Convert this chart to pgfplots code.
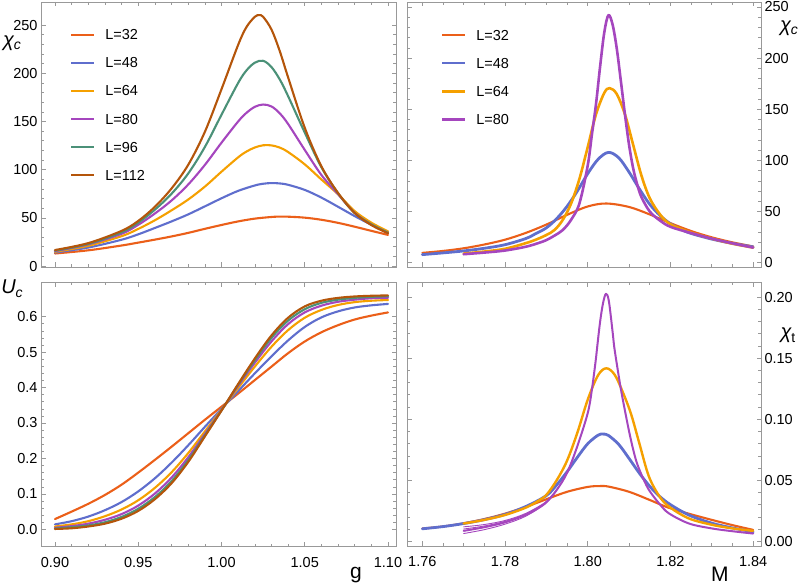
\documentclass[border=0pt]{standalone}
\usepackage{fontspec}
\setmainfont{Liberation Sans}
\usepackage{pgfplots}
\pgfplotsset{compat=1.18}

\definecolor{cA}{HTML}{EB5F19}
\definecolor{cB}{HTML}{5F6ECD}
\definecolor{cC}{HTML}{F5A000}
\definecolor{cD}{HTML}{A546BE}
\definecolor{cE}{HTML}{4B9178}
\definecolor{cF}{HTML}{B4550A}
\definecolor{framegray}{HTML}{999999}

\newcommand\tfont{\fontsize{14.5bp}{16bp}\selectfont}
\newcommand\lfont{\fontsize{20bp}{22bp}\selectfont}
\newcommand\sfont{\fontsize{14bp}{14bp}\selectfont}

\pgfplotsset{
  crv/.style={smooth, tension=0.55, line join=round, line cap=round},
  panel/.style={
    scale only axis, anchor=south west,
    axis line style={draw=framegray, line width=0.8bp},
    tick style={draw=framegray, line width=0.6bp},
    major tick length=4.5bp, minor tick length=2.7bp,
    tick align=inside,
    xtick pos=both, ytick pos=both,
    tick label style={font=\tfont, text=black},
    xticklabel style={yshift=-7bp},
    /pgf/number format/assume math mode=true,
    legend image code/.code={\draw[##1, line width=2.2bp, line cap=butt] (0bp,0bp) -- (23bp,0bp);},
    legend style={draw=none, fill=none, font=\tfont, anchor=north west,
      nodes={inner sep=0pt, text depth=0pt}, row sep=18bp, column sep=10bp},
    legend cell align=left,
  },
  leftx/.style={xmin=0.8916, xmax=1.1048, xtick={0.9,0.95,1,1.05,1.1}, minor x tick num=4},
  rightx/.style={xmin=1.7563, xmax=1.8419, xtick={1.76,1.78,1.80,1.82,1.84}, minor x tick num=3},
}

\begin{document}
\begin{tikzpicture}
\useasboundingbox (0bp,0bp) rectangle (805bp,585bp);

% ---------------- top left ----------------
\begin{axis}[panel, leftx, at={(41bp,318bp)}, width=355bp, height=265bp,
  ymin=-1, ymax=274, ytick={0,50,100,150,200,250}, minor y tick num=4,
  xticklabels={}, yticklabels={0,50,100,150,200,250},
  every axis y label/.style={at={(axis description cs:-0.0817,0.845)}, anchor=center},
  ylabel={\lfont\itshape χ\raisebox{-3.5bp}{\sfont c}},
  legend style={at={(axis description cs:0.0732,0.904)}},
]
\addplot[cA, crv, line width=2.1bp] coordinates {
(0.90,13.0)(0.92,16.3)(0.94,21.3)(0.95,24.3)(0.96,27.4)(0.97,30.7)(0.98,34.4)(0.99,38.6)
(1.00,42.6)(1.01,46.3)(1.02,49.2)(1.03,50.9)(1.035,51.3)(1.04,51.2)(1.05,50.2)(1.06,48.0)
(1.07,44.8)(1.08,40.8)(1.09,36.5)(1.10,32.3)};
\addlegendentry{L=32}
\addplot[cB, crv, line width=2.1bp] coordinates {
(0.90,14.0)(0.92,19.2)(0.94,27.3)(0.95,32.9)(0.96,39.5)(0.97,46.3)(0.98,53.6)(0.99,61.9)
(1.00,70.3)(1.01,78.0)(1.02,83.6)(1.025,85.4)(1.03,86.1)(1.035,85.7)(1.04,84.3)(1.05,79.0)
(1.06,71.0)(1.07,61.5)(1.08,51.8)(1.09,43.0)(1.10,35.5)};
\addlegendentry{L=48}
\addplot[cC, crv, line width=2.1bp] coordinates {
(0.90,14.8)(0.92,21.0)(0.94,31.0)(0.95,38.5)(0.96,47.5)(0.97,57.8)(0.98,69.0)(0.99,82.4)
(1.00,97.9)(1.01,112.8)(1.015,118.8)(1.02,123.0)(1.025,125.3)(1.03,125.2)(1.035,122.9)
(1.04,118.3)(1.05,105.5)(1.06,89.8)(1.07,74.5)(1.08,57.0)(1.09,45.0)(1.10,36.0)};
\addlegendentry{L=64}
\addplot[cD, crv, line width=2.1bp] coordinates {
(0.90,15.5)(0.92,22.5)(0.94,33.5)(0.95,42.8)(0.96,54.5)(0.97,68.0)(0.98,84.6)(0.99,104.9)
(1.00,128.0)(1.01,150.0)(1.015,159.0)(1.02,165.2)(1.025,167.6)(1.03,165.6)(1.035,158.5)
(1.04,147.4)(1.05,120.5)(1.06,94.5)(1.07,74.5)(1.08,55.2)(1.09,43.0)(1.10,34.5)};
\addlegendentry{L=80}
\addplot[cE, crv, line width=2.1bp] coordinates {
(0.90,16.0)(0.92,23.0)(0.94,35.0)(0.95,45.0)(0.96,58.5)(0.97,75.0)(0.98,96.0)(0.99,123.5)
(1.00,157.0)(1.01,190.0)(1.015,203.0)(1.02,211.0)(1.025,213.0)(1.03,206.5)(1.035,193.6)
(1.04,176.3)(1.05,138.5)(1.06,102.5)(1.07,75.5)(1.08,55.0)(1.09,43.2)(1.10,34.5)};
\addlegendentry{L=96}
\addplot[cF, crv, line width=2.1bp] coordinates {
(0.90,16.6)(0.92,23.8)(0.94,36.5)(0.95,46.8)(0.96,61.5)(0.97,80.5)(0.98,105.0)(0.99,139.2)
(1.00,183.5)(1.01,229.5)(1.015,248.0)(1.02,258.6)(1.0226,260.4)(1.025,258.6)(1.03,245.5)
(1.035,223.0)(1.04,195.8)(1.05,143.5)(1.06,103.5)(1.07,75.8)(1.08,55.0)(1.09,42.5)(1.10,34.0)};
\addlegendentry{L=112}
\end{axis}

% ---------------- top right ----------------
\begin{axis}[panel, rightx, at={(407bp,318bp)}, width=354bp, height=265bp,
  ymin=-4.3, ymax=254.9, ytick={0,50,100,150,200,250}, minor y tick num=4,
  xticklabels={}, yticklabels={0,50,100,150,200,250},
  yticklabel pos=right, ytick pos=both,
  every axis y label/.style={at={(axis description cs:1.079,0.902)}, anchor=center},
  ylabel={\lfont\itshape χ\raisebox{-3.5bp}{\sfont c}},
  legend style={at={(axis description cs:0.0876,0.902)}},
]
\addplot[cA, crv, line width=2.1bp] coordinates {
(1.760,9.5)(1.765,11.4)(1.770,14.0)(1.775,17.7)(1.780,22.4)(1.785,29.0)(1.790,37.2)
(1.795,46.7)(1.800,54.9)(1.8045,57.8)(1.810,54.4)(1.815,47.1)(1.820,38.6)(1.825,30.9)
(1.830,24.7)(1.835,19.8)(1.840,15.8)};
\addlegendentry{L=32}
\addplot[cB, crv, line width=2.8bp] coordinates {
(1.760,7.8)(1.765,9.5)(1.770,11.4)(1.775,14.0)(1.780,17.5)(1.785,23.5)(1.7875,28.5)
(1.790,34.0)(1.7925,43.0)(1.795,55.0)(1.7975,70.0)(1.800,87.0)(1.8025,101.0)(1.805,107.8)
(1.8075,102.5)(1.810,88.5)(1.8125,72.0)(1.815,57.0)(1.8175,46.0)(1.820,38.0)(1.8225,32.5)
(1.825,28.5)(1.830,23.0)(1.835,18.8)(1.840,15.4)};
\addlegendentry{L=48}
\addplot[cC, crv, line width=2.6bp] coordinates {
(1.770,8.8)(1.775,10.8)(1.780,13.5)(1.785,19.0)(1.7875,22.5)(1.790,27.0)(1.792,32.0)
(1.794,42.0)(1.796,58.0)(1.798,82.0)(1.800,113.0)(1.802,145.0)(1.804,166.0)(1.8053,170.6)
(1.807,165.0)(1.809,145.0)(1.811,115.0)(1.813,85.0)(1.815,63.0)(1.8175,47.0)(1.820,37.5)
(1.8245,30.0)(1.830,23.5)(1.835,18.5)(1.840,14.7)};
\addlegendentry{L=64}
\addplot[cD, crv, line width=2.6bp] coordinates {
(1.770,8.2)(1.775,9.8)(1.780,11.8)(1.785,15.5)(1.788,19.0)(1.790,22.0)(1.792,26.5)
(1.794,32.0)(1.796,42.0)(1.798,58.0)(1.800,95.0)(1.801,125.0)(1.802,155.0)(1.803,192.0)
(1.804,225.0)(1.805,242.0)(1.806,233.0)(1.807,210.0)(1.808,178.0)(1.809,145.0)(1.810,115.0)
(1.811,92.0)(1.812,76.0)(1.813,64.0)(1.815,50.0)(1.8175,41.0)(1.820,35.0)(1.8245,29.5)
(1.830,23.5)(1.835,18.8)(1.840,14.7)};
\addlegendentry{L=80}
\end{axis}

% ---------------- bottom left ----------------
\begin{axis}[panel, leftx, at={(41bp,38.3bp)}, width=355bp, height=264.4bp,
  ymin=-0.049, ymax=0.697, ytick={0,0.1,0.2,0.3,0.4,0.5,0.6}, minor y tick num=4,
  xticklabels={0.90,0.95,1.00,1.05,1.10},
  yticklabels={0.0,0.1,0.2,0.3,0.4,0.5,0.6},
  every axis y label/.style={at={(axis description cs:-0.0817,0.975)}, anchor=center},
  ylabel={\lfont\itshape U\raisebox{-3.5bp}{\sfont c}},
  every axis x label/.style={at={(axis description cs:0.887,-0.109)}, anchor=center},
  xlabel={\fontsize{21bp}{22bp}\selectfont g},
]
\addplot[cA, crv, line width=2.1bp] coordinates {
(0.90,0.029)(0.91,0.050)(0.92,0.072)(0.93,0.097)(0.94,0.126)(0.95,0.160)(0.96,0.196)
(0.97,0.233)(0.98,0.271)(0.99,0.309)(1.00,0.346)(1.01,0.383)(1.02,0.421)(1.03,0.459)
(1.04,0.497)(1.05,0.530)(1.06,0.556)(1.07,0.576)(1.08,0.592)(1.09,0.603)(1.10,0.612)};
\addplot[cB, crv, line width=2.1bp] coordinates {
(0.90,0.014)(0.91,0.023)(0.92,0.036)(0.93,0.054)(0.94,0.077)(0.95,0.107)(0.96,0.144)
(0.97,0.188)(0.98,0.237)(0.99,0.289)(1.00,0.340)(1.01,0.390)(1.02,0.440)(1.03,0.488)
(1.04,0.533)(1.05,0.571)(1.06,0.598)(1.07,0.615)(1.08,0.626)(1.09,0.632)(1.10,0.636)};
\addplot[cC, crv, line width=2.1bp] coordinates {
(0.90,0.008)(0.91,0.014)(0.92,0.023)(0.93,0.037)(0.94,0.056)(0.95,0.082)(0.96,0.117)
(0.97,0.161)(0.98,0.215)(0.99,0.276)(1.00,0.3377)(1.01,0.399)(1.02,0.459)(1.03,0.515)
(1.04,0.562)(1.05,0.597)(1.06,0.619)(1.07,0.633)(1.08,0.641)(1.09,0.645)(1.10,0.647)};
\addplot[cD, crv, line width=2.1bp] coordinates {
(0.90,0.0045)(0.91,0.009)(0.92,0.016)(0.93,0.027)(0.94,0.043)(0.95,0.067)(0.96,0.101)
(0.97,0.146)(0.98,0.203)(0.99,0.269)(1.00,0.3363)(1.01,0.405)(1.02,0.470)(1.03,0.530)
(1.04,0.579)(1.05,0.612)(1.06,0.631)(1.07,0.642)(1.08,0.648)(1.09,0.652)(1.10,0.6535)};
\addplot[cE, crv, line width=2.1bp] coordinates {
(0.90,0.0024)(0.91,0.006)(0.92,0.011)(0.93,0.020)(0.94,0.035)(0.95,0.058)(0.96,0.091)
(0.97,0.136)(0.98,0.195)(0.99,0.265)(1.00,0.3355)(1.01,0.408)(1.02,0.477)(1.03,0.540)
(1.04,0.589)(1.05,0.621)(1.06,0.639)(1.07,0.648)(1.08,0.653)(1.09,0.656)(1.10,0.6575)};
\addplot[cF, crv, line width=2.1bp] coordinates {
(0.90,0.001)(0.91,0.003)(0.92,0.008)(0.93,0.016)(0.94,0.030)(0.95,0.052)(0.96,0.085)
(0.97,0.130)(0.98,0.190)(0.99,0.262)(1.00,0.335)(1.01,0.410)(1.02,0.482)(1.03,0.547)
(1.04,0.597)(1.05,0.629)(1.06,0.645)(1.07,0.653)(1.08,0.657)(1.09,0.659)(1.10,0.660)};
\end{axis}

% ---------------- bottom right ----------------
\begin{axis}[panel, rightx, at={(407bp,39bp)}, width=354bp, height=263.5bp,
  ymin=-0.0039, ymax=0.212, ytick={0,0.05,0.1,0.15,0.2}, minor y tick num=4,
  xticklabels={1.76,1.78,1.80,1.82,1.84},
  yticklabels={0.00,0.05,0.10,0.15,0.20},
  yticklabel pos=right, ytick pos=both,
  every axis y label/.style={at={(axis description cs:1.076,0.80)}, anchor=center},
  ylabel={\lfont{\itshape χ}\raisebox{-3.5bp}{\sfont t}},
  every axis x label/.style={at={(axis description cs:0.884,-0.108)}, anchor=center},
  xlabel={\fontsize{21bp}{22bp}\selectfont M},
]
\addplot[cA, crv, line width=2.1bp] coordinates {
(1.760,0.0104)(1.765,0.0121)(1.770,0.0147)(1.775,0.0182)(1.780,0.0226)(1.785,0.0281)
(1.790,0.0344)(1.795,0.0405)(1.800,0.0445)(1.8028,0.0452)(1.805,0.0448)(1.810,0.0405)
(1.815,0.0338)(1.818,0.0295)(1.820,0.0270)(1.8245,0.0225)(1.830,0.0175)(1.835,0.0132)
(1.840,0.0093)};
\addplot[cB, crv, line width=2.8bp] coordinates {
(1.760,0.0102)(1.765,0.0120)(1.770,0.0145)(1.775,0.0177)(1.780,0.0220)(1.785,0.0284)
(1.790,0.0374)(1.7925,0.0462)(1.795,0.0569)(1.7975,0.0688)(1.800,0.0799)(1.8025,0.0869)
(1.8037,0.0878)(1.805,0.0867)(1.8075,0.0793)(1.810,0.0678)(1.8125,0.0557)(1.815,0.0450)
(1.8175,0.0364)(1.820,0.0300)(1.8245,0.0214)(1.830,0.0148)(1.835,0.0109)(1.840,0.0077)};
\addplot[cC, crv, line width=2.4bp] coordinates {
(1.770,0.0145)(1.775,0.0175)(1.780,0.0215)(1.785,0.0275)(1.788,0.0330)(1.790,0.0380)
(1.7925,0.0500)(1.795,0.0660)(1.7975,0.0890)(1.800,0.1160)(1.8025,0.1360)(1.8045,0.1417)
(1.8065,0.1365)(1.8085,0.1220)(1.8105,0.1040)(1.8125,0.0800)(1.8148,0.0530)(1.8175,0.0360)
(1.820,0.0275)(1.8245,0.0186)(1.830,0.0135)(1.835,0.0105)(1.840,0.0085)};
\addplot[cD, crv, line width=0.9bp] coordinates {
(1.770,0.0063)(1.775,0.0095)(1.780,0.0140)(1.785,0.0205)(1.790,0.0315)(1.7925,0.0418)};
\addplot[cD, crv, line width=0.9bp] coordinates {
(1.770,0.0100)(1.775,0.0125)(1.780,0.0163)(1.785,0.0222)(1.790,0.0323)(1.7925,0.0422)};
\addplot[cD, crv, line width=0.9bp] coordinates {
(1.770,0.0118)(1.775,0.0137)(1.780,0.0170)(1.785,0.0228)(1.790,0.0326)(1.7925,0.0424)};
\addplot[cD, crv, line width=2bp] coordinates {
(1.770,0.0085)(1.775,0.0115)(1.780,0.0155)(1.785,0.0215)(1.788,0.0270)(1.790,0.0320)
(1.7925,0.0420)(1.795,0.0560)(1.7975,0.0780)(1.800,0.1050)(1.801,0.1240)(1.802,0.1500)
(1.8023,0.1595)(1.803,0.1800)(1.8037,0.1950)(1.8044,0.2027)(1.8051,0.1970)(1.806,0.1720)
(1.8064,0.1595)(1.807,0.1460)(1.808,0.1250)(1.809,0.1070)(1.810,0.0900)(1.811,0.0750)
(1.812,0.0630)(1.8136,0.0500)(1.815,0.0410)(1.8175,0.0300)(1.8197,0.0227)(1.8245,0.0145)
(1.830,0.0105)(1.835,0.0082)(1.840,0.0063)};
\end{axis}
\end{tikzpicture}
\end{document}
